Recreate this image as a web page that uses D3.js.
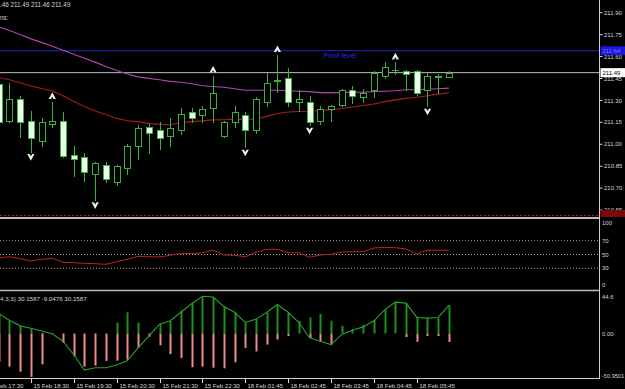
<!DOCTYPE html>
<html><head><meta charset="utf-8">
<script src="https://cdn.jsdelivr.net/npm/d3@7"></script>
<style>html,body{margin:0;padding:0;background:#000;overflow:hidden}svg{display:block}</style>
</head><body>
<svg id="c" width="625" height="389"></svg>
<script>
// ---------------- data ----------------
const times = ["15 Feb 17:45","15 Feb 18:00","15 Feb 18:15","15 Feb 18:30","15 Feb 18:45","15 Feb 19:00","15 Feb 19:15","15 Feb 19:30","15 Feb 19:45","15 Feb 20:00","15 Feb 20:15","15 Feb 20:30","15 Feb 20:45","15 Feb 21:00","15 Feb 21:15","15 Feb 21:30","15 Feb 21:45","15 Feb 22:00","15 Feb 22:15","15 Feb 22:30","15 Feb 22:45","18 Feb 01:15","18 Feb 01:30","18 Feb 01:45","18 Feb 02:00","18 Feb 02:15","18 Feb 02:30","18 Feb 02:45","18 Feb 03:00","18 Feb 03:15","18 Feb 03:30","18 Feb 03:45","18 Feb 04:00","18 Feb 04:15","18 Feb 04:30","18 Feb 04:45","18 Feb 05:00","18 Feb 05:15","18 Feb 05:30","18 Feb 05:45","18 Feb 06:00","18 Feb 06:15","18 Feb 06:30"];
const open  = [211.41,211.16,211.31,211.16,211.02,211.14,211.16,210.93,210.91,210.80,210.86,210.74,210.84,210.99,211.12,211.10,211.06,211.10,211.22,211.20,211.25,211.06,211.15,211.20,211.10,211.29,211.43,211.45,211.29,211.29,211.16,211.24,211.27,211.37,211.32,211.37,211.47,211.51,211.50,211.50,211.37,211.46,211.46];
const high  = [211.44,211.42,211.33,211.23,211.18,211.29,211.22,210.99,210.94,210.88,210.88,210.86,211.00,211.13,211.14,211.15,211.18,211.25,211.25,211.26,211.47,211.16,211.26,211.22,211.32,211.49,211.61,211.52,211.37,211.33,211.26,211.27,211.38,211.40,211.38,211.50,211.56,211.56,211.51,211.51,211.49,211.48,211.50];
const low   = [211.14,211.15,211.05,210.95,210.99,211.12,210.91,210.78,210.75,210.62,210.74,210.72,210.80,210.90,210.94,210.97,210.99,211.07,211.15,211.15,211.15,211.05,211.12,210.98,211.08,211.26,211.36,211.26,211.23,211.13,211.14,211.16,211.26,211.28,211.29,211.32,211.45,211.48,211.37,211.34,211.26,211.35,211.46];
const close = [211.15,211.31,211.15,211.04,211.15,211.16,210.92,210.90,210.81,210.87,210.76,210.85,210.99,211.11,211.08,211.04,211.11,211.21,211.18,211.24,211.35,211.15,211.22,211.10,211.31,211.42,211.44,211.29,211.31,211.15,211.24,211.26,211.37,211.33,211.35,211.49,211.53,211.51,211.48,211.35,211.47,211.47,211.49];
const maSlow = [211.803,211.778,211.751,211.721,211.697,211.670,211.643,211.616,211.589,211.562,211.532,211.505,211.481,211.461,211.451,211.441,211.430,211.424,211.414,211.400,211.395,211.390,211.380,211.370,211.370,211.370,211.370,211.366,211.363,211.360,211.353,211.353,211.353,211.356,211.356,211.360,211.363,211.366,211.373,211.373,211.376,211.380,211.384];
const maFast = [211.457,211.442,211.421,211.398,211.381,211.364,211.332,211.292,211.258,211.228,211.204,211.177,211.161,211.155,211.143,211.136,211.134,211.147,211.155,211.160,211.167,211.168,211.172,211.170,211.174,211.191,211.211,211.221,211.224,211.226,211.231,211.236,211.245,211.255,211.265,211.275,211.292,211.304,211.314,211.322,211.332,211.343,211.353];
const fractalUp = [5, 20, 26, 37];
const fractalDown = [3, 9, 23, 29, 40];
const pivotLevel = 211.64;
const bidPrice = 211.49;
const lowLevel = 210.52;
const priceTicks = [211.90, 211.75, 211.60, 211.45, 211.30, 211.15, 211.00, 210.85, 210.70, 210.55];
const headerText = ".46 211.49 211.46 211.49";
const headerText2 = "ns:";

const rsi = [44.9,46.8,43.9,40.6,43.0,44.5,38.7,38.1,37.2,36.7,35.8,39.6,43.0,47.4,46.8,46.4,48.8,51.7,51.2,52.6,56.5,49.3,48.8,46.8,53.2,57.5,57.5,52.6,52.6,45.9,49.3,50.3,53.6,54.1,54.1,59.4,60.4,59.9,58.0,50.7,56.1,56.1,56.1];
const rsiLevels = [70, 50, 30];
const rsiTicks = [100, 70, 50, 30, 0];

const histUp = [21.6,13.6,8.2,5.6,0.9,0,0,0,0,0,0,11.8,22.7,11.8,0,10.0,13.6,24.5,32.5,39.0,39.0,28.9,22.7,11.8,15.4,22.7,30.0,22.7,13.6,17.2,20.9,13.6,8.2,4.5,9.3,14.3,25.2,33.6,32.5,18.0,16.5,16.5,30.1587];
const histDown = [-30.0,-35.4,-40.8,-46.3,-32.9,-0.5,-10.0,-24.5,-35.4,-34.3,-29.2,-28.9,-28.1,-15.4,-3.4,-12.5,-22.0,-26.3,-36.1,-35.4,-36.5,-37.2,-30.7,-15.4,-19.1,-11.8,-6.4,-2.7,0,-4.5,-8.2,-11.8,0,0,0,0,0,0,-3.8,-8.9,-2.7,-2.7,-9.0476];
const signal = [21.0,14.3,8.2,5.6,2.7,-0.2,-8.2,-22.7,-39.0,-36.5,-36.5,-33.6,-29.2,-15.4,-2.7,10.0,13.6,22.7,31.8,39.8,39.0,28.9,22.7,11.8,15.4,22.7,31.0,22.7,11.8,-4.5,-8.2,-11.8,-0.9,3.4,7.1,13.6,25.2,33.6,32.5,17.2,16.5,17.2,30.1587];
const oscMax = 44.6, oscMin = -50.9501;
const oscTicks = [44.6, 0, -50.9501];
const oscHeader = "4,3,3) 30.1587 -9.0476 30.1587";

const tickIndex = [-1, 3, 7, 11, 15, 19, 23, 27, 31, 35, 39];
const tickLabels = ["15 Feb 17:30","15 Feb 18:30","15 Feb 19:30","15 Feb 20:30","15 Feb 21:30","15 Feb 22:30","18 Feb 01:45","18 Feb 02:45","18 Feb 03:45","18 Feb 04:45","18 Feb 05:45"];

// ---------------- layout ----------------
const W = 625, H = 389, axisX = 599.5;
const FONT = "Liberation Sans, Arial, sans-serif";
const TXT = "#d4d4d4";
const svg = d3.select("#c");
svg.append("rect").attr("width", W).attr("height", H).attr("fill", "#000");

const x = d3.scaleLinear().domain([0, 42]).range([-1.3, -1.3 + 42 * 10.72]);
const y = d3.scaleLinear().domain([210.55, 211.90]).range([12.7 + 1.35 * 146.2, 12.7]);
const yR = d3.scaleLinear().domain([0, 100]).range([289, 220]);
const yO = d3.scaleLinear().domain([oscMin, oscMax]).range([381.2, 291.8]);

const defs = svg.append("defs");
defs.append("clipPath").attr("id", "cm").append("rect").attr("x", 0).attr("y", 0).attr("width", 599).attr("height", 217);
defs.append("clipPath").attr("id", "cr").append("rect").attr("x", 0).attr("y", 219).attr("width", 599).attr("height", 71);
defs.append("clipPath").attr("id", "co").append("rect").attr("x", 0).attr("y", 291.5).attr("width", 599).attr("height", 86.5);
defs.append("clipPath").attr("id", "cl").append("rect").attr("x", 600).attr("y", 0).attr("width", 25).attr("height", 217);

// ---------------- main panel ----------------
const gm = svg.append("g").attr("clip-path", "url(#cm)");
const idx = d3.range(open.length);

gm.append("line").attr("x1", 0).attr("x2", axisX).attr("y1", y(pivotLevel)).attr("y2", y(pivotLevel))
  .attr("stroke", "#2424c8").attr("stroke-width", 1);
gm.append("line").attr("x1", 0).attr("x2", axisX).attr("y1", y(bidPrice)).attr("y2", y(bidPrice))
  .attr("stroke", "#bdbdbd").attr("stroke-width", 1);
gm.append("line").attr("x1", 0).attr("x2", axisX).attr("y1", y(lowLevel) + 1).attr("y2", y(lowLevel) + 1)
  .attr("stroke", "#a02828").attr("stroke-width", 1).attr("stroke-dasharray", "2,2");
gm.append("text").attr("x", x(30.3)).attr("y", y(pivotLevel) + 7.2).attr("fill", "#2a2ae0")
  .attr("font-family", FONT).attr("font-size", 7.2).text("Pivot level");

const lineGen = arr => d3.line().x((d, i) => x(i)).y(d => y(d)).curve(d3.curveLinear)(arr);
gm.append("path").attr("d", lineGen(maSlow)).attr("fill", "none").attr("stroke", "#b444b4").attr("stroke-width", 1.1);
gm.append("path").attr("d", lineGen(maFast)).attr("fill", "none").attr("stroke", "#a81c1c").attr("stroke-width", 1.1);

const cg = gm.append("g").attr("shape-rendering", "crispEdges");
idx.forEach(i => {
  const c = Math.round(x(i));
  const o = open[i], cl = close[i];
  cg.append("line").attr("x1", c + 0.5).attr("x2", c + 0.5)
    .attr("y1", Math.round(y(high[i]))).attr("y2", Math.round(y(low[i])) + 1)
    .attr("stroke", "#3fb03f").attr("stroke-width", 1);
  const top = Math.round(y(Math.max(o, cl))), bot = Math.round(y(Math.min(o, cl)));
  if (bot - top < 1) {
    cg.append("line").attr("x1", c - 3).attr("x2", c + 4).attr("y1", top + 0.5).attr("y2", top + 0.5)
      .attr("stroke", "#3fb03f").attr("stroke-width", 1);
  } else {
    cg.append("rect").attr("x", c - 3 + 0.5).attr("y", top + 0.5).attr("width", 6).attr("height", bot - top)
      .attr("fill", cl < o ? "#ecffec" : "#000").attr("stroke", "#3fb03f").attr("stroke-width", 1);
  }
});

const upPath = "M0,-3.6 L3.6,3 L1.3,3 L0,0.8 L-1.3,3 L-3.6,3 Z";
const dnPath = "M0,3.6 L3.6,-3 L1.3,-3 L0,-0.8 L-1.3,-3 L-3.6,-3 Z";
fractalUp.forEach(i => gm.append("path").attr("d", upPath)
  .attr("transform", `translate(${x(i)},${y(high[i]) - 6})`).attr("fill", "#f0f0f0"));
fractalDown.forEach(i => gm.append("path").attr("d", dnPath)
  .attr("transform", `translate(${x(i)},${y(low[i]) + 5.5})`).attr("fill", "#f0f0f0"));

svg.append("text").attr("x", 0).attr("y", 6.5).attr("fill", TXT).attr("font-family", FONT).attr("font-size", 6.3).text(headerText);
svg.append("text").attr("x", 0).attr("y", 19.5).attr("fill", TXT).attr("font-family", FONT).attr("font-size", 6.3).text(headerText2);

priceTicks.forEach(p => {
  svg.append("line").attr("x1", axisX).attr("x2", axisX + 3).attr("y1", y(p)).attr("y2", y(p)).attr("stroke", TXT);
  svg.append("text").attr("x", 604).attr("y", y(p)).attr("dy", "0.35em").attr("fill", TXT)
    .attr("font-family", FONT).attr("font-size", 6).text(d3.format(".2f")(p));
});
const lg = svg.append("g").attr("clip-path", "url(#cl)");
function priceBox(v, bg, fg, withText) {
  lg.append("rect").attr("x", 600.5).attr("y", y(v) - 4.5).attr("width", 25).attr("height", 9).attr("fill", bg);
  if (withText) lg.append("text").attr("x", 602.5).attr("y", y(v)).attr("dy", "0.35em").attr("fill", fg)
    .attr("font-family", FONT).attr("font-size", 6).text(d3.format(".2f")(v));
}
priceBox(lowLevel, "#7a0a0a", "#7a0a0a", false);
priceBox(pivotLevel, "#1818d8", "#7a7aff", true);
priceBox(bidPrice, "#ffffff", "#000000", true);

// ---------------- RSI panel ----------------
const gr = svg.append("g").attr("clip-path", "url(#cr)");
rsiLevels.forEach(l => gr.append("line").attr("x1", 0).attr("x2", axisX).attr("y1", yR(l)).attr("y2", yR(l))
  .attr("stroke", "#a8a8a8").attr("stroke-width", 1).attr("stroke-dasharray", "1,2"));
gr.append("path").attr("d", d3.line().x((d, i) => x(i)).y(d => yR(d))(rsi))
  .attr("fill", "none").attr("stroke", "#b42828").attr("stroke-width", 1);
rsiTicks.forEach(t => {
  let yy = yR(t);
  if (t === 100) yy += 3.3;
  if (t === 0) yy -= 4;
  svg.append("text").attr("x", 602).attr("y", yy).attr("dy", "0.35em").attr("fill", TXT)
    .attr("font-family", FONT).attr("font-size", 6).text(t);
});

// ---------------- oscillator panel ----------------
const go = svg.append("g").attr("clip-path", "url(#co)");
idx.forEach(i => {
  const cx = Math.round(x(i));
  if (histUp[i] > 0) go.append("rect").attr("x", cx - 0.5).attr("width", 2)
    .attr("y", yO(histUp[i])).attr("height", yO(0) - yO(histUp[i])).attr("fill", "#1f8f1f");
  if (histDown[i] < 0) go.append("rect").attr("x", cx - 0.5).attr("width", 2)
    .attr("y", yO(0)).attr("height", yO(histDown[i]) - yO(0)).attr("fill", "#f08c8c");
});
go.append("path").attr("d", d3.line().x((d, i) => x(i)).y(d => yO(d))(signal))
  .attr("fill", "none").attr("stroke", "#2e9c2e").attr("stroke-width", 1.1);
svg.append("text").attr("x", 0).attr("y", 300.5).attr("fill", TXT).attr("font-family", FONT).attr("font-size", 6.2).text(oscHeader);
oscTicks.forEach(t => {
  let yy = yO(t);
  if (t === oscMax) yy += 5.5;
  if (t === oscMin) yy -= 5;
  svg.append("text").attr("x", 602).attr("y", yy).attr("dy", "0.35em").attr("fill", TXT)
    .attr("font-family", FONT).attr("font-size", t === oscMin ? 5.6 : 6).text(t === 0 ? "0.00" : String(t));
});

// ---------------- frame / separators ----------------
svg.append("line").attr("x1", 0).attr("x2", axisX).attr("y1", 218).attr("y2", 218).attr("stroke", "#bdbdbd").attr("stroke-width", 2);
svg.append("line").attr("x1", 0).attr("x2", axisX).attr("y1", 290.5).attr("y2", 290.5).attr("stroke", "#bdbdbd").attr("stroke-width", 1.5);
svg.append("line").attr("x1", 0).attr("x2", axisX).attr("y1", 378.5).attr("y2", 378.5).attr("stroke", "#cfcfcf").attr("stroke-width", 1);
svg.append("line").attr("x1", axisX).attr("x2", axisX).attr("y1", 0).attr("y2", 379).attr("stroke", "#cfcfcf").attr("stroke-width", 1);

// ---------------- time axis ----------------
tickIndex.forEach((ti, j) => {
  const tx = Math.round(x(ti)) + 0.5;
  svg.append("line").attr("x1", tx).attr("x2", tx).attr("y1", 378.5).attr("y2", 383).attr("stroke", TXT);
  svg.append("text").attr("x", Math.max(tx + 2, 0)).attr("y", 387.5).attr("fill", TXT).attr("font-family", FONT)
    .attr("font-size", 6).text(j === 0 ? tickLabels[j].slice(4) : tickLabels[j]);
});
</script>
</body></html>
